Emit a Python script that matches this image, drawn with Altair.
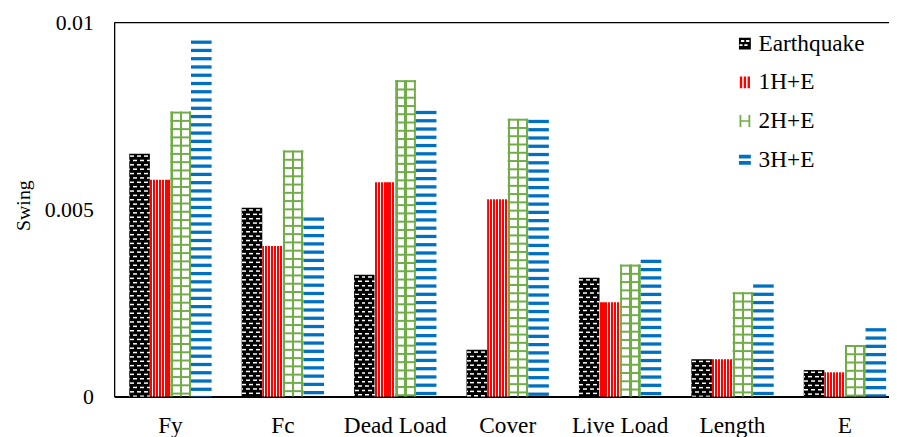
import altair as alt
import pandas as pd

# ---- data ----
categories = ["Fy", "Fc", "Dead Load", "Cover", "Live Load", "Length", "E"]
series = ["Earthquake", "1H+E", "2H+E", "3H+E"]
earthquake = [0.00649, 0.00505, 0.00326, 0.00125, 0.00318, 0.00100, 0.00071]
h1e = [0.00580, 0.00403, 0.00573, 0.00528, 0.00252, 0.00100, 0.00065]
h2e = [0.00762, 0.00658, 0.00846, 0.00743, 0.00353, 0.00279, 0.00138]
h3e = [0.00952, 0.00479, 0.00764, 0.00740, 0.00366, 0.00300, 0.00183]
y_ticks = [0, 0.005, 0.01]

colors = ["#000000", "#FF0000", "#70AD47", "#0070C0"]

rows = []
for s, vals in zip(series, [earthquake, h1e, h2e, h3e]):
    for c, v in zip(categories, vals):
        rows.append({"cat": c, "series": s, "value": v})
df = pd.DataFrame(rows)

FONT = "Liberation Serif, Times New Roman, Times, serif"
W, H = 781, 377
YMAX = 0.01
PX = YMAX / H  # data units per pixel


def grad(segments, on, off):
    """Horizontal linear gradient with sharp stripes."""
    stops = [{"offset": 0, "color": off}]
    for a, b in segments:
        stops += [{"offset": a, "color": off}, {"offset": a, "color": on},
                  {"offset": b, "color": on}, {"offset": b, "color": off}]
    stops.append({"offset": 1, "color": off})
    return {"gradient": "linear", "x1": 0, "x2": 1, "y1": 0, "y2": 0, "stops": stops}


def periodic(n, start, frac):
    segs = []
    for i in range(-1, n + 1):
        a = (i + start) / n
        b = (i + start + frac) / n
        a, b = max(0.0, a), min(1.0, b)
        if b > a:
            segs.append((round(a, 4), round(b, 4)))
    return segs


CLEAR = "rgba(255,255,255,0)"
red_fill = grad(periodic(7, 0.0, 0.7), "#FF0000", "#FFFFFF")
green_fill = grad([(0, 0.11), (0.445, 0.555), (0.89, 1.0)], "#70AD47", CLEAR)
dash_a = grad(periodic(3, 0.08, 0.58), "#FFFFFF", CLEAR)
dash_b = grad(periodic(3, 0.58, 0.58), "#FFFFFF", CLEAR)

x_enc = alt.X(
    "cat:N", sort=categories,
    scale=alt.Scale(domain=categories, paddingInner=0.2675, paddingOuter=0.08, align=0.84),
    axis=alt.Axis(title=None, labelAngle=0, labelFont=FONT, labelFontSize=23.5,
                  labelColor="black", labelPadding=17, ticks=False, tickSize=0,
                  domainColor="black", domainWidth=2, grid=False),
)
xo_enc = alt.XOffset("series:N", sort=series, scale=alt.Scale(domain=series))
y_scale = alt.Scale(domain=[0, YMAX], nice=False, zero=True)
y_axis = alt.Axis(title="Swing", values=y_ticks, format="~g", labelFont=FONT,
                  labelFontSize=22, labelColor="black", labelPadding=21, ticks=False,
                  tickSize=0, domainColor="black", domainWidth=1.3, grid=False,
                  titleFont=FONT, titleFontSize=20, titleFontWeight="normal",
                  titleColor="black", titlePadding=11, titleY=184)


def bars(sname, fill):
    return alt.Chart(df).transform_filter(alt.datum.series == sname).mark_bar(
        color=fill, strokeWidth=0
    ).encode(x=x_enc, xOffset=xo_enc,
             y=alt.Y("value:Q", scale=y_scale, axis=y_axis))


def stripes(sname, start_px, step_px, thick_px, fill):
    start, step, thick = start_px * PX, step_px * PX, thick_px * PX
    return alt.Chart(df).transform_filter(alt.datum.series == sname).transform_calculate(
        s=f"sequence({start}, datum.value, {step})"
    ).transform_flatten(["s"]).transform_calculate(
        top="datum.value - datum.s",
        bot=f"max(0, datum.value - datum.s - {thick})",
    ).mark_bar(color=fill, strokeWidth=0).encode(
        x=x_enc, xOffset=xo_enc,
        y=alt.Y("top:Q", scale=y_scale, axis=y_axis), y2="bot:Q")


paths = [
    "M-1,-1H1V1H-1Z M-0.65,-0.6V-0.3H-0.1V-0.6Z M0.2,-0.6V-0.3H0.75V-0.6Z "
    "M-0.9,0.1V0.4H-0.4V0.1Z M-0.1,0.1V0.4H0.45V0.1Z",
    "M-0.85,-1H-0.45V1H-0.85Z M-0.2,-1H0.2V1H-0.2Z M0.45,-1H0.85V1H0.45Z",
    "M-0.9,-1H-0.6V1H-0.9Z M0.6,-1H0.9V1H0.6Z M-0.6,-0.12H0.6V0.12H-0.6Z",
    "M-1,-0.85H1V-0.2H-1Z M-1,0.2H1V0.85H-1Z",
]

leg = alt.Legend(orient="none", legendX=624, legendY=9.5, title=None, labelFont=FONT,
                 labelFontSize=23.5, labelColor="black", symbolSize=144,
                 symbolStrokeWidth=0, rowPadding=14, labelOffset=2, padding=0,
                 symbolOpacity=1)

legend_layer = alt.Chart(df).transform_filter("false").mark_point(
    filled=True, opacity=1, strokeWidth=0
).encode(
    color=alt.Color("series:N", scale=alt.Scale(domain=series, range=colors), legend=leg),
    shape=alt.Shape("series:N", scale=alt.Scale(domain=series, range=paths), legend=leg),
)

frame_top = alt.Chart(pd.DataFrame({"a": [0]})).mark_rule(
    color="black", strokeWidth=1.3
).encode(x=alt.value(0), x2=alt.value(W), y=alt.value(0))

chart = alt.layer(
    bars("Earthquake", "#000000"),
    stripes("Earthquake", 1.5, 8.8, 1.5, dash_a),
    stripes("Earthquake", 5.9, 8.8, 1.5, dash_b),
    bars("1H+E", red_fill),
    bars("2H+E", green_fill),
    stripes("2H+E", 0, 8.33, 2.0, "#70AD47"),
    stripes("3H+E", 0, 8.33, 3.3, "#0070C0"),
    frame_top,
    legend_layer,
).properties(
    width=W, height=H,
    autosize=alt.AutoSizeParams(type="none"),
    padding={"left": 107, "top": 13, "right": 0, "bottom": 39},
).configure(font=FONT).configure_view(strokeWidth=0)

chart.save("out.html", embed_options={"renderer": "svg", "actions": False})
